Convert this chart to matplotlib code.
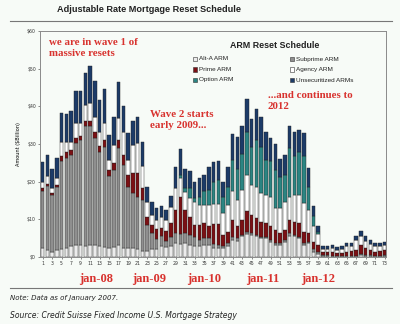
import numpy as np
import matplotlib
matplotlib.use("Agg")
import matplotlib.pyplot as plt
from matplotlib.lines import Line2D
from matplotlib.patches import Rectangle

# ARM reset amounts ($ billion) per month (months 1..73)
months = np.arange(1, 74)

alt_a = [2.3, 1.8, 1.3, 1.8, 2.2, 2.3, 3.0, 3.2, 3.2, 3.0, 3.2, 3.1, 2.8, 2.7, 2.5, 2.6, 3.2, 2.4, 2.5, 2.3,
         2.0, 1.7, 1.5, 2.0, 2.2, 2.9, 2.6, 2.8, 3.6, 3.4, 3.6, 3.2, 2.8, 2.8, 3.2, 3.2, 2.5, 2.5, 2.3, 2.8,
         4.5, 4.3, 5.5, 6.2, 5.8, 5.5, 5.0, 5.0, 4.1, 3.2, 3.2, 4.1, 5.6, 5.5, 5.0, 3.2, 3.6, 1.2, 0.8, 0.3,
         0.3, 0.3, 0.3, 0.3, 0.3, 0.3, 0.3, 0.4, 0.3, 0.3, 0.3, 0.3, 0.3]
subprime = [15.3, 17.1, 15.2, 16.7, 23.4, 23.9, 24.1, 27.1, 27.9, 31.7, 31.6, 28.5, 25.2, 26.6, 18.9, 20.5, 25.7, 22.1, 16.2, 14.7,
            14.0, 13.5, 7.0, 4.3, 2.6, 2.6, 1.6, 2.4, 2.7, 2.7, 2.7, 2.6, 2.6, 1.7, 1.8, 1.8, 1.0, 0.8, 0.5, 0.8,
            0.7, 0.7, 0.4, 0.5, 0.5, 0.4, 0.4, 0.4, 0.4, 0.4, 0.4, 0.4, 0.7, 0.4, 0.4, 0.4, 0.5, 0.8, 0.6, 0.2,
            0.2, 0.0, 0.0, 0.0, 0.0, 0.0, 0.0, 0.5, 0.3, 0.1, 0.0, 0.0, 0.3]
prime = [0.8, 0.5, 0.4, 0.6, 1.3, 1.8, 1.3, 1.2, 0.9, 1.3, 1.4, 1.7, 1.5, 1.8, 1.8, 1.8, 2.2, 2.6, 3.1, 5.3,
         6.3, 3.1, 2.2, 2.2, 2.6, 2.1, 2.8, 3.8, 6.2, 9.8, 6.2, 4.9, 3.1, 4.0, 4.0, 3.1, 5.3, 5.5, 3.0, 3.1,
         4.7, 3.1, 4.0, 5.4, 4.9, 4.4, 4.0, 3.5, 3.6, 3.6, 2.7, 2.7, 3.6, 3.5, 3.5, 3.1, 2.2, 2.1, 1.8, 0.9,
         0.8, 0.9, 0.7, 0.8, 1.1, 1.2, 1.6, 2.3, 1.7, 1.5, 1.1, 1.2, 1.3]
agency = [1.6, 2.0, 1.5, 1.8, 3.5, 2.4, 2.2, 4.0, 3.5, 4.4, 4.6, 4.0, 3.8, 4.4, 2.6, 4.9, 5.8, 6.2, 4.0, 7.5,
          7.9, 5.9, 4.0, 2.7, 2.4, 3.1, 2.8, 4.2, 5.8, 5.1, 4.7, 4.9, 6.0, 5.3, 4.8, 5.7, 5.4, 5.4, 5.8, 7.1,
          7.5, 7.1, 7.9, 9.7, 8.0, 8.4, 7.5, 7.6, 7.9, 5.7, 6.6, 7.5, 6.1, 7.1, 7.6, 7.6, 6.1, 4.0, 2.8, 0.7,
          0.8, 1.1, 0.9, 0.9, 1.4, 1.3, 2.6, 2.4, 2.0, 1.6, 1.4, 1.5, 1.3]
option = [0, 0, 0, 0, 0, 0, 0, 0, 0, 0, 0, 0, 0, 0, 0, 0, 0, 0, 0, 0,
          0, 0, 0, 0, 0, 0, 0, 0, 0, 0.8, 1.1, 2.7, 1.1, 2.2, 3.6, 4.0, 5.8, 6.3, 4.4, 4.9,
          8.4, 8.1, 9.6, 11.5, 10.1, 12.4, 12.4, 9.3, 9.4, 10.2, 8.4, 7.1, 12.9, 10.2, 11.5, 12.4, 6.3, 2.7, 0.6, 0,
          0, 0, 0, 0, 0, 0, 0, 0, 0, 0, 0, 0, 0]
unsecuritized = [5.3, 5.6, 4.9, 5.3, 7.8, 7.5, 8.2, 8.5, 8.5, 8.5, 9.8, 9.3, 8.5, 9.2, 6.6, 7.5, 9.5, 6.9, 7.1, 6.2,
                 7.1, 6.2, 4.0, 3.3, 3.1, 2.9, 2.7, 3.1, 5.7, 6.8, 5.0, 4.4, 4.2, 4.9, 4.4, 6.0, 5.1, 5.1, 4.0, 5.1,
                 6.9, 8.5, 7.3, 8.7, 7.3, 8.2, 7.9, 7.5, 6.2, 7.0, 4.8, 5.3, 5.9, 6.6, 5.8, 6.2, 4.9, 2.8, 1.7, 0.9,
                 0.9, 0.9, 0.7, 0.8, 0.8, 0.8, 1.1, 1.4, 1.3, 1.0, 0.8, 0.8, 0.9]

series = [("Alt-A ARM", alt_a, "#ececec"),
          ("Subprime ARM", subprime, "#8f8f8f"),
          ("Prime ARM", prime, "#7b1014"),
          ("Agency ARM", agency, "#ffffff"),
          ("Option ARM", option, "#2b8583"),
          ("Unsecuritized ARMs", unsecuritized, "#1c3b68")]

date_labels = ["jan-08", "jan-09", "jan-10", "jan-11", "jan-12"]
date_months = [12.2, 23.5, 35.0, 47.3, 59.0]

bg = "#f7fbf7"
red = "#d8322e"

fig = plt.figure(figsize=(4, 3.24), dpi=100, facecolor=bg)
ax = fig.add_axes([0.1, 0.2068, 0.865, 0.6975], facecolor=bg)

bottom = np.zeros(len(months))
for name, vals, col in series:
    vals = np.array(vals)
    ax.bar(months, vals, bottom=bottom, width=0.72, color=col,
           edgecolor="#222222", linewidth=0.3, label=name)
    bottom += vals

ax.set_xlim(0.45, 73.3)
ax.set_ylim(0, 60)
ax.set_xticks(months[::2])
ax.set_xticklabels([str(m) for m in months[::2]], fontsize=3.3)
ax.set_yticks(range(0, 61, 10))
ax.set_yticklabels(["$%d" % v for v in range(0, 61, 10)], fontsize=3.3)
ax.tick_params(length=1.5, width=0.4, pad=1.5, colors="#333333")
ax.set_ylabel("Amount ($Billion)", fontsize=3.6, labelpad=4)
for s in ax.spines.values():
    s.set_color("#8a8a8a")
    s.set_linewidth(0.7)

# legend drawn by hand: title plus a 2x3 grid of swatches
def px(x, y):
    return x / 400, 1 - y / 324

fig.text(*px(275, 46), "ARM Reset Schedule", fontsize=6.4, fontweight="bold",
         family="Liberation Sans", ha="center", va="center", color="#222222")
for i, (name, vals, col) in enumerate(series):
    bx = 195 + (i % 2) * 97
    by = 59 + (i // 2) * 10.5
    x0, y0 = px(bx - 2, by + 2)
    fig.add_artist(Rectangle((x0, y0), 4 / 400, 4 / 324, transform=fig.transFigure,
                             facecolor=col, edgecolor="#333333", linewidth=0.4))
    fig.text(*px(bx + 4, by), name, fontsize=4.6, family="Liberation Sans",
             va="center", color="#222222")

# page furniture
fig.text(*px(57, 9), "Adjustable Rate Mortgage Reset Schedule", fontsize=6.6,
         fontweight="bold", family="Liberation Sans", va="center", color="#222222")
fig.add_artist(Line2D([10 / 400, 392 / 400], [1 - 21 / 324] * 2, color="#777777", lw=0.8))
fig.add_artist(Line2D([10 / 400, 392 / 400], [1 - 288 / 324] * 2, color="#777777", lw=0.8))

note_kw = dict(style="italic", family="DejaVu Sans", color="#222222", va="center")
fig.text(*px(10, 298), "Note: Data as of January 2007.", fontsize=5, **note_kw)
fig.text(*px(10, 316), "Source: Credit Suisse Fixed Income U.S. Mortgage Strategy", fontsize=5.5, **note_kw)

ann_kw = dict(fontsize=7.8, fontweight="bold", family="Liberation Serif", color=red, va="top", linespacing=1.3)
fig.text(*px(49, 38), "we are in wave 1 of\nmassive resets", **ann_kw)
fig.text(*px(150, 110), "Wave 2 starts\nearly 2009...", **ann_kw)
fig.text(*px(268, 91), "...and continues to\n2012", **ann_kw)

for lab, m in zip(date_labels, date_months):
    ax.text(m, -0.07, lab, transform=ax.get_xaxis_transform(), ha="center", va="top",
            fontsize=9, fontweight="bold", family="Liberation Serif", color=red)

fig.savefig("out.png", dpi=100, facecolor=bg)
